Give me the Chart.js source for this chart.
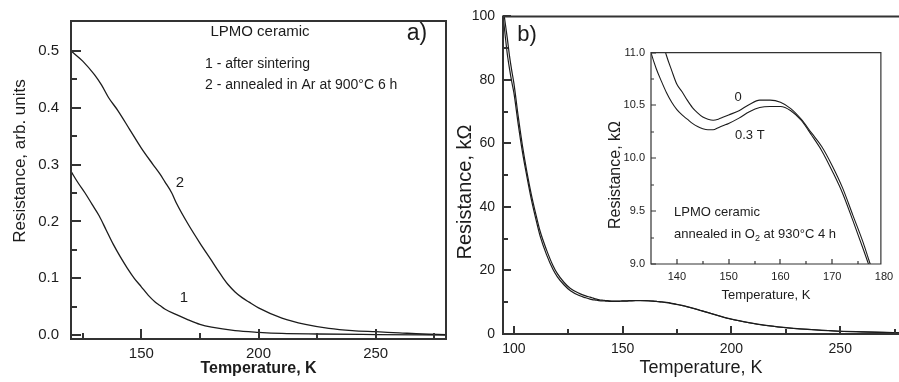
<!DOCTYPE html>
<html>
<head>
<meta charset="utf-8">
<script src="https://cdn.jsdelivr.net/npm/chart.js@4.4.0/dist/chart.umd.min.js"></script>
<style>
  html, body { margin: 0; padding: 0; background: #fff; }
  #wrap { position: relative; width: 899px; height: 382px; overflow: hidden; }
  canvas { position: absolute; }
</style>
</head>
<body>
<div id="wrap">
  <canvas id="chart-a" width="450" height="382" style="left:0;top:0"></canvas>
  <canvas id="chart-b" width="449" height="382" style="left:450px;top:0"></canvas>
  <canvas id="chart-inset" width="299" height="270" style="left:600px;top:40px"></canvas>
</div>
<script>
// panel a) curve 1 - after sintering
const tempA1 = [120, 123, 126, 129, 132, 135, 138, 141, 144, 147, 150, 153, 156, 158, 160, 165, 170, 175, 180, 190, 200, 210, 225, 250, 280];
const resA1 = [0.288, 0.268, 0.250, 0.230, 0.210, 0.185, 0.160, 0.138, 0.118, 0.100, 0.085, 0.070, 0.058, 0.052, 0.046, 0.036, 0.027, 0.019, 0.014, 0.008, 0.005, 0.003, 0.002, 0.001, 0.000];
// panel a) curve 2 - annealed in Ar
const tempA2 = [120, 125, 130, 133, 136, 140, 145, 150, 155, 158, 160, 163, 165, 170, 175, 180, 183, 185, 187, 190, 193, 196, 200, 210, 220, 230, 240, 250, 260, 270, 280];
const resA2 = [0.500, 0.482, 0.458, 0.440, 0.418, 0.395, 0.362, 0.329, 0.300, 0.283, 0.270, 0.250, 0.232, 0.195, 0.162, 0.131, 0.112, 0.100, 0.089, 0.076, 0.066, 0.058, 0.048, 0.030, 0.019, 0.012, 0.008, 0.006, 0.004, 0.002, 0.001];

// panel b) annealed in O2 : field 0 and 0.3 T (same data used by the inset)
const tempB = [95, 96, 97, 98, 99, 100, 102, 104, 106, 108, 110, 112, 115, 118, 120, 123, 126, 130, 133, 135, 136, 137, 138, 139, 140, 141, 142, 143, 144, 145, 146, 147, 148, 149, 150, 152, 154, 156, 158, 160, 162, 164, 166, 168, 170, 172, 174, 176, 177, 178, 180, 183, 186, 190, 195, 200, 208, 215, 224, 235, 247, 260, 277];
const resB0 = [103, 98, 93, 87.5, 83, 79, 68.5, 59, 51, 44, 38, 32.5, 26.5, 21.5, 19, 16.3, 14.3, 12.8, 12.0, 11.6, 11.4, 11.15, 10.97, 10.83, 10.70, 10.63, 10.55, 10.48, 10.43, 10.39, 10.37, 10.36, 10.37, 10.39, 10.41, 10.45, 10.51, 10.55, 10.55, 10.53, 10.47, 10.37, 10.24, 10.11, 9.93, 9.72, 9.46, 9.20, 9.05, 8.9, 8.55, 8.0, 7.4, 6.6, 5.6, 4.7, 3.6, 2.8, 2.1, 1.5, 1.0, 0.7, 0.4];
const resB03 = [100.5, 94, 88, 83.5, 79.5, 76, 66, 57, 49.5, 42.5, 36.5, 31, 25, 20.3, 18, 15.5, 13.6, 12.1, 11.4, 11.0, 10.85, 10.73, 10.62, 10.53, 10.46, 10.41, 10.37, 10.33, 10.30, 10.28, 10.27, 10.27, 10.29, 10.31, 10.33, 10.38, 10.44, 10.48, 10.49, 10.49, 10.45, 10.36, 10.22, 10.07, 9.88, 9.67, 9.41, 9.14, 9.0, 8.85, 8.5, 7.95, 7.35, 6.55, 5.55, 4.65, 3.55, 2.75, 2.05, 1.45, 0.95, 0.65, 0.35];

// tick values
const xTicksA = [150, 200, 250];
const xMinorA = [125, 175, 225, 275];
const yTicksA = [0, 0.1, 0.2, 0.3, 0.4, 0.5];
const yMinorA = [0.05, 0.15, 0.25, 0.35, 0.45];
const xTicksB = [100, 150, 200, 250];
const xMinorB = [125, 175, 225, 275];
const yTicksB = [0, 20, 40, 60, 80, 100];
const yMinorB = [10, 30, 50, 70, 90];
const xTicksIn = [140, 150, 160, 170, 180];
const xMinorIn = [145, 155, 165, 175];
const yTicksIn = [9.0, 9.5, 10.0, 10.5, 11.0];
const yMinorIn = [9.25, 9.75, 10.25, 10.75];

const FONT = "'Liberation Sans', Arial, Helvetica, sans-serif";
const INK = '#1c1c1c';
const AXIS = '#333';

const points = (xs, ys) => xs.map((x, i) => ({ x, y: ys[i] }));
const fixedTicks = values => scale => { scale.ticks = values.map(value => ({ value })); };

// box round the plot with the tick marks pointing inwards
function frame({ top, right, width, major, minor, xMinor, yMinor }) {
    return {
        id: 'frame',
        afterDatasetsDraw(chart) {
            const { ctx, chartArea: a, scales: { x, y } } = chart;
            ctx.save();
            ctx.strokeStyle = AXIS;
            ctx.lineWidth = width;
            ctx.lineCap = 'square';
            ctx.beginPath();
            ctx.moveTo(a.left, a.top);
            ctx.lineTo(a.left, a.bottom);
            ctx.lineTo(a.right, a.bottom);
            if (right) { ctx.lineTo(a.right, a.top); }
            if (top) { ctx.moveTo(a.left, a.top); ctx.lineTo(a.right, a.top); }
            ctx.stroke();

            ctx.lineCap = 'butt';
            ctx.beginPath();
            const tickX = (v, len) => {
                if (v < x.min || v > x.max) return;
                const px = Math.round(x.getPixelForValue(v));
                ctx.moveTo(px, a.bottom);
                ctx.lineTo(px, a.bottom - len);
            };
            const tickY = (v, len) => {
                if (v < y.min || v > y.max) return;
                const py = Math.round(y.getPixelForValue(v));
                ctx.moveTo(a.left, py);
                ctx.lineTo(a.left + len, py);
            };
            x.ticks.forEach(t => tickX(t.value, major));
            xMinor.forEach(v => tickX(v, minor));
            y.ticks.forEach(t => tickY(t.value, major));
            yMinor.forEach(v => tickY(v, minor));
            ctx.stroke();
            ctx.restore();
        }
    };
}

// free text: annotations, panel letters and the rotated y titles
function notes(items) {
    return {
        id: 'notes',
        afterDraw(chart) {
            const { ctx } = chart;
            items.forEach(n => {
                ctx.save();
                ctx.fillStyle = INK;
                ctx.textBaseline = 'middle';
                ctx.translate(n.x, n.y);
                if (n.rotate) ctx.rotate(n.rotate);
                ctx.font = `${n.weight || 'normal'} ${n.size}px ${FONT}`;
                if (!n.parts) {
                    ctx.textAlign = n.align || 'left';
                    ctx.fillText(n.text, 0, 0);
                } else {
                    // text with a subscript piece, always left aligned
                    ctx.textAlign = 'left';
                    let cx = 0;
                    n.parts.forEach(p => {
                        ctx.font = `normal ${p.sub ? Math.round(n.size * 0.7) : n.size}px ${FONT}`;
                        ctx.fillText(p.t, cx, p.sub ? n.size * 0.35 : 0);
                        cx += ctx.measureText(p.t).width;
                    });
                }
                ctx.restore();
            });
        }
    };
}

function whiteArea() {
    return {
        id: 'whiteArea',
        beforeDraw(chart) {
            const { ctx, chartArea: a } = chart;
            ctx.save();
            ctx.fillStyle = '#fff';
            ctx.fillRect(a.left, a.top, a.right - a.left, a.bottom - a.top);
            ctx.restore();
        }
    };
}

function axis({ min, max, ticks, fmt, size, pad, fit, title, titleSize, titleWeight, titlePad, horizontal }) {
    const opts = {
        type: 'linear',
        min, max,
        afterBuildTicks: fixedTicks(ticks),
        afterFit: s => { if (horizontal) s.height = fit; else s.width = fit; },
        grid: { display: false, drawTicks: false },
        border: { display: false },
        ticks: {
            padding: pad, color: INK, autoSkip: false, maxRotation: 0,
            font: { family: FONT, size },
            callback: fmt
        }
    };
    if (title) {
        opts.title = {
            display: true, text: title, color: INK,
            font: { family: FONT, size: titleSize, weight: titleWeight || 'normal' },
            padding: { top: 0, bottom: titlePad }
        };
    }
    return opts;
}

function lineSet(data, width) {
    return {
        data, borderColor: INK, borderWidth: width, pointRadius: 0,
        cubicInterpolationMode: 'monotone', fill: false
    };
}

function baseOptions(padding, scales) {
    return {
        responsive: false,
        animation: false,
        devicePixelRatio: 1,
        events: [],
        layout: { padding },
        plugins: { legend: { display: false }, tooltip: { enabled: false } },
        scales
    };
}

const oneDec = v => Number(v).toFixed(1);
const plain = v => String(v);

// ---- panel a) ----
new Chart(document.getElementById('chart-a'), {
    type: 'line',
    data: { datasets: [lineSet(points(tempA1, resA1), 1.3), lineSet(points(tempA2, resA2), 1.3)] },
    options: baseOptions({ top: 9, right: 4, left: 0, bottom: 0 }, {
        x: axis({ horizontal: true, min: 120, max: 280, ticks: xTicksA, fmt: plain, size: 15, pad: 6, fit: 43,
                  title: 'Temperature, K', titleSize: 16, titleWeight: 'bold', titlePad: 4 }),
        y: axis({ min: -0.0068, max: 0.5525, ticks: yTicksA, fmt: oneDec, size: 15, pad: 12, fit: 71 })
    }),
    plugins: [
        frame({ top: true, right: true, width: 2, major: 10, minor: 6, xMinor: xMinorA, yMinor: yMinorA }),
        notes([
            { text: 'LPMO ceramic', x: 260, y: 32, size: 15, align: 'center' },
            { text: 'a)', x: 417, y: 34, size: 23, align: 'center' },
            { text: '1 - after sintering', x: 205, y: 64, size: 14 },
            { text: '2 - annealed in Ar at 900°C 6 h', x: 205, y: 85, size: 14 },
            { text: '2', x: 180, y: 183, size: 15, align: 'center' },
            { text: '1', x: 184, y: 298, size: 15, align: 'center' },
            { text: 'Resistance, arb. units', x: 20, y: 161, size: 17, align: 'center', rotate: -Math.PI / 2 }
        ])
    ]
});

// ---- panel b) ----
new Chart(document.getElementById('chart-b'), {
    type: 'line',
    data: { datasets: [lineSet(points(tempB, resB0), 1.2), lineSet(points(tempB, resB03), 1.2)] },
    options: baseOptions({ top: 11, right: 0, left: 0, bottom: 0 }, {
        x: axis({ horizontal: true, min: 95, max: 277, ticks: xTicksB, fmt: plain, size: 14, pad: 7, fit: 48,
                  title: 'Temperature, K', titleSize: 18, titlePad: 3 }),
        y: axis({ min: 0, max: 100, ticks: yTicksB, fmt: plain, size: 14, pad: 8, fit: 53 })
    }),
    plugins: [
        frame({ top: true, right: false, width: 2, major: 8, minor: 5, xMinor: xMinorB, yMinor: yMinorB }),
        notes([
            { text: 'b)', x: 77, y: 35, size: 22, align: 'center' },
            { text: 'Resistance, kΩ', x: 15, y: 192, size: 20, align: 'center', rotate: -Math.PI / 2 }
        ])
    ]
});

// ---- inset of panel b) ----
new Chart(document.getElementById('chart-inset'), {
    type: 'line',
    data: { datasets: [lineSet(points(tempB, resB0), 1.1), lineSet(points(tempB, resB03), 1.1)] },
    options: baseOptions({ top: 10, right: 12, left: 0, bottom: 0 }, {
        x: axis({ horizontal: true, min: 135, max: 179.4, ticks: xTicksIn, fmt: plain, size: 11, pad: 6, fit: 46,
                  title: 'Temperature, K', titleSize: 13, titlePad: 7 }),
        y: axis({ min: 9.0, max: 11.0, ticks: yTicksIn, fmt: oneDec, size: 11, pad: 6, fit: 51 })
    }),
    plugins: [
        whiteArea(),
        frame({ top: true, right: true, width: 1.2, major: 5, minor: 3, xMinor: xMinorIn, yMinor: yMinorIn }),
        notes([
            { text: '0', x: 138, y: 57, size: 13, align: 'center' },
            { text: '0.3 T', x: 135, y: 95, size: 13 },
            { text: 'LPMO ceramic', x: 74, y: 172, size: 13 },
            { x: 74, y: 194, size: 13, parts: [{ t: 'annealed in O' }, { t: '2', sub: true }, { t: ' at 930°C 4 h' }] },
            { text: 'Resistance, kΩ', x: 16, y: 135, size: 16, align: 'center', rotate: -Math.PI / 2 }
        ])
    ]
});
</script>
</body>
</html>
